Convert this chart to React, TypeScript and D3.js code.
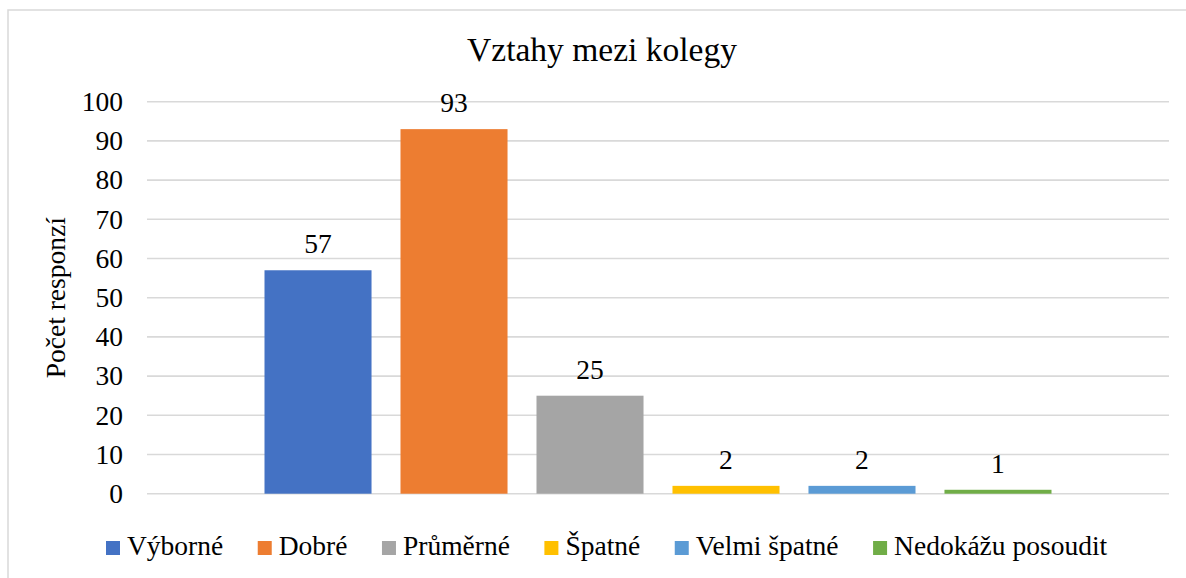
import React, { useEffect, useRef } from "react";
import * as d3 from "d3";

const title = "Vztahy mezi kolegy";
const yAxisTitle = "Počet responzí";
const seriesNames = ["Výborné", "Dobré", "Průměrné", "Špatné", "Velmi špatné", "Nedokážu posoudit"];
const seriesValues = [57, 93, 25, 2, 2, 1];
const seriesColors = ["#4472C4", "#ED7D31", "#A5A5A5", "#FFC000", "#5B9BD5", "#70AD47"];
const yTicks = [0, 10, 20, 30, 40, 50, 60, 70, 80, 90, 100];

const W = 1186;
const H = 578;
const FONT = "'Liberation Serif', serif";

export default function App() {
  const ref = useRef<SVGSVGElement | null>(null);

  useEffect(() => {
    const svg = d3.select(ref.current);
    svg.selectAll("*").remove();

    const plotLeft = 147;
    const plotRight = 1169;
    const y = d3.scaleLinear().domain([0, 100]).range([493.7, 101.7]);
    const x = d3
      .scaleBand<string>()
      .domain(seriesNames)
      .range([plotLeft, plotRight])
      .paddingInner(0.213)
      .paddingOuter(0.864);

    svg
      .append("rect")
      .attr("x", 8)
      .attr("y", 10)
      .attr("width", 1240)
      .attr("height", 640)
      .attr("fill", "#fff")
      .attr("stroke", "#d9d9d9")
      .attr("stroke-width", 1.5);

    svg
      .append("text")
      .attr("x", 602)
      .attr("y", 61)
      .attr("text-anchor", "middle")
      .style("font-family", FONT)
      .style("font-size", "33.5px")
      .attr("fill", "#000")
      .text(title);

    svg
      .append("g")
      .selectAll("line")
      .data(yTicks)
      .join("line")
      .attr("x1", plotLeft)
      .attr("x2", plotRight)
      .attr("y1", (d) => y(d))
      .attr("y2", (d) => y(d))
      .attr("stroke", "#d9d9d9")
      .attr("stroke-width", 1.6);

    svg
      .append("g")
      .selectAll("text")
      .data(yTicks)
      .join("text")
      .attr("x", 123)
      .attr("y", (d) => y(d))
      .attr("dy", "0.34em")
      .attr("text-anchor", "end")
      .style("font-family", FONT)
      .style("font-size", "27.5px")
      .attr("fill", "#000")
      .text((d) => String(d));

    svg
      .append("text")
      .attr("transform", `translate(65, ${(y(0) + y(100)) / 2}) rotate(-90)`)
      .attr("text-anchor", "middle")
      .style("font-family", FONT)
      .style("font-size", "27.5px")
      .attr("fill", "#000")
      .text(yAxisTitle);

    svg
      .append("g")
      .selectAll("rect")
      .data(seriesNames)
      .join("rect")
      .attr("x", (d) => x(d) as number)
      .attr("width", x.bandwidth())
      .attr("y", (_d, i) => y(seriesValues[i]))
      .attr("height", (_d, i) => y(0) - y(seriesValues[i]))
      .attr("fill", (_d, i) => seriesColors[i]);

    svg
      .append("g")
      .selectAll("text")
      .data(seriesNames)
      .join("text")
      .attr("x", (d) => (x(d) as number) + x.bandwidth() / 2)
      .attr("y", (_d, i) => y(seriesValues[i]) - 17)
      .attr("text-anchor", "middle")
      .style("font-family", FONT)
      .style("font-size", "27.5px")
      .attr("fill", "#000")
      .text((_d, i) => String(seriesValues[i]));

    const lg = svg.append("g");
    let cx = 106;
    seriesNames.forEach((name, i) => {
      lg.append("rect")
        .attr("x", cx)
        .attr("y", 541)
        .attr("width", 14)
        .attr("height", 14)
        .attr("fill", seriesColors[i]);
      const t = lg
        .append("text")
        .attr("x", cx + 21)
        .attr("y", 555)
        .style("font-family", FONT)
        .style("font-size", "27.5px")
        .attr("fill", "#000")
        .text(name);
      const w = (t.node() as SVGTextElement).getComputedTextLength();
      cx = cx + 21 + w + 34.5;
    });
  }, []);

  return (
    <div style={{ position: "absolute", left: 0, top: 0, width: W, height: H, overflow: "hidden", background: "#fff" }}>
      <svg ref={ref} width={W} height={H} />
    </div>
  );
}
